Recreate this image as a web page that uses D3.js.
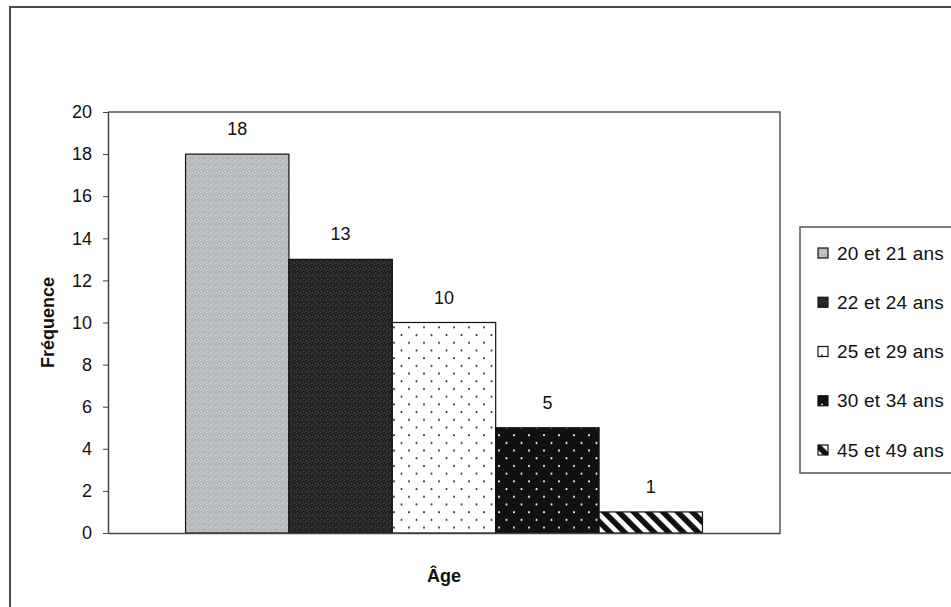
<!DOCTYPE html>
<html>
<head>
<meta charset="utf-8">
<script src="https://cdn.jsdelivr.net/npm/d3@7"></script>
<style>
  html, body { margin: 0; padding: 0; background: #fff; }
  svg { display: block; }
  text { font-family: "Liberation Sans", Arial, sans-serif; fill: #111; }
</style>
</head>
<body>
<svg id="chart" width="951" height="607"></svg>
<script>
// Age groups and their frequencies
const groups = ["20 et 21 ans", "22 et 24 ans", "25 et 29 ans", "30 et 34 ans", "45 et 49 ans"];
const frequencies = [18, 13, 10, 5, 1];
const yTicks = [0, 2, 4, 6, 8, 10, 12, 14, 16, 18, 20];
const yTitle = "Fréquence";
const xTitle = "Âge";

const svg = d3.select("#chart");
const plot = { left: 108, top: 112, right: 780, bottom: 533 };

// ---- fill patterns, one per age group ----
const defs = svg.append("defs");

function textured(id, base, dark, light) {
  const p = defs.append("pattern").attr("id", id)
    .attr("patternUnits", "userSpaceOnUse").attr("width", 6).attr("height", 6);
  p.append("rect").attr("width", 6).attr("height", 6).attr("fill", base);
  [[0,0],[3,1],[1,3],[4,4],[5,2]].forEach(([x,y]) =>
    p.append("rect").attr("x", x).attr("y", y).attr("width", 1).attr("height", 1).attr("fill", dark));
  [[2,0],[5,5],[0,4],[3,3]].forEach(([x,y]) =>
    p.append("rect").attr("x", x).attr("y", y).attr("width", 1).attr("height", 1).attr("fill", light));
}
textured("pat0", "#babdc1", "#a6a9ad", "#cfd2d5");
textured("pat1", "#282828", "#141414", "#444444");

function dotted(id, bg, dot) {
  const p = defs.append("pattern").attr("id", id)
    .attr("patternUnits", "userSpaceOnUse").attr("width", 15).attr("height", 15.4);
  p.append("rect").attr("width", 15).attr("height", 15.4).attr("fill", bg);
  p.append("circle").attr("cx", 4).attr("cy", 4).attr("r", 1).attr("fill", dot);
  p.append("circle").attr("cx", 11.5).attr("cy", 11.7).attr("r", 1).attr("fill", dot);
}
dotted("pat2", "#ffffff", "#333");
dotted("pat3", "#111111", "#ffffff");

const stripes = defs.append("pattern").attr("id", "pat4")
  .attr("patternUnits", "userSpaceOnUse").attr("width", 10.4).attr("height", 10.4)
  .attr("patternTransform", "rotate(-45)");
stripes.append("rect").attr("width", 10.4).attr("height", 10.4).attr("fill", "#fff");
stripes.append("rect").attr("width", 5.6).attr("height", 10.4).attr("fill", "#111");

const fills = groups.map((g, i) => `url(#pat${i})`);

// ---- outer frame ----
svg.append("rect")
  .attr("x", 10).attr("y", 7).attr("width", 1200).attr("height", 800)
  .attr("fill", "none").attr("stroke", "#4a4a4a").attr("stroke-width", 2);

// ---- scales ----
const y = d3.scaleLinear().domain([0, 20]).range([plot.bottom, plot.top]);
const plotW = plot.right - plot.left;
const bandW = plotW / 6.5; // five bars plus a 150% gap
const x = d3.scaleBand().domain(groups)
  .range([plot.left + bandW * 0.75, plot.right - bandW * 0.75])
  .padding(0);

// ---- plot area frame (top and right sides) ----
svg.append("path")
  .attr("d", `M${plot.left},${plot.top}H${plot.right}V${plot.bottom}`)
  .attr("fill", "none").attr("stroke", "#555").attr("stroke-width", 1.5);

// ---- bars ----
svg.append("g").selectAll("rect")
  .data(groups.map((g, i) => ({ g, v: frequencies[i], i })))
  .join("rect")
  .attr("x", d => x(d.g))
  .attr("y", d => y(d.v))
  .attr("width", x.bandwidth())
  .attr("height", d => y(0) - y(d.v))
  .attr("fill", d => fills[d.i])
  .attr("stroke", "#111").attr("stroke-width", 1.2);

// value labels
svg.append("g").selectAll("text")
  .data(groups.map((g, i) => ({ g, v: frequencies[i] })))
  .join("text")
  .attr("x", d => x(d.g) + x.bandwidth() / 2)
  .attr("y", d => y(d.v) - 19)
  .attr("text-anchor", "middle")
  .attr("font-size", 18)
  .text(d => d.v);

// ---- y axis ----
const yAxis = svg.append("g")
  .attr("transform", `translate(${plot.left},0)`)
  .call(d3.axisLeft(y).tickValues(yTicks).tickSize(5).tickPadding(11).tickSizeOuter(0));
yAxis.select(".domain").attr("stroke", "#444").attr("stroke-width", 1.5);
yAxis.selectAll(".tick line").attr("stroke", "#444");
yAxis.selectAll(".tick text")
  .attr("font-size", 18)
  .attr("font-family", "'Liberation Sans', Arial, sans-serif")
  .attr("fill", "#111");

// ---- x axis baseline ----
const xAxis = svg.append("g")
  .attr("transform", `translate(0,${plot.bottom})`)
  .call(d3.axisBottom(d3.scaleLinear().range([plot.left, plot.right])).tickValues([]).tickSizeOuter(0));
xAxis.select(".domain").attr("stroke", "#444").attr("stroke-width", 1.5);

// ---- axis titles ----
svg.append("text")
  .attr("transform", `translate(54,${(plot.top + plot.bottom) / 2}) rotate(-90)`)
  .attr("text-anchor", "middle")
  .attr("font-size", 18).attr("font-weight", "bold")
  .text(yTitle);

svg.append("text")
  .attr("x", (plot.left + plot.right) / 2).attr("y", 582)
  .attr("text-anchor", "middle")
  .attr("font-size", 18).attr("font-weight", "bold")
  .text(xTitle);

// ---- legend ----
const legend = svg.append("g");
legend.append("rect")
  .attr("x", 800).attr("y", 227).attr("width", 200).attr("height", 246)
  .attr("fill", "#fff").attr("stroke", "#555").attr("stroke-width", 1.5);

const legendY = d3.scalePoint().domain(groups).range([253, 450]);
const items = legend.selectAll("g.item").data(groups).join("g")
  .attr("class", "item")
  .attr("transform", d => `translate(818,${legendY(d)})`);
items.append("rect")
  .attr("x", 0).attr("y", -5).attr("width", 10).attr("height", 10)
  .attr("fill", (d, i) => fills[i])
  .attr("stroke", "#111").attr("stroke-width", 1.2);
items.append("text")
  .attr("x", 19).attr("y", 0).attr("dy", "0.35em")
  .attr("font-size", 19).attr("letter-spacing", 0.2)
  .text(d => d);
</script>
</body>
</html>
